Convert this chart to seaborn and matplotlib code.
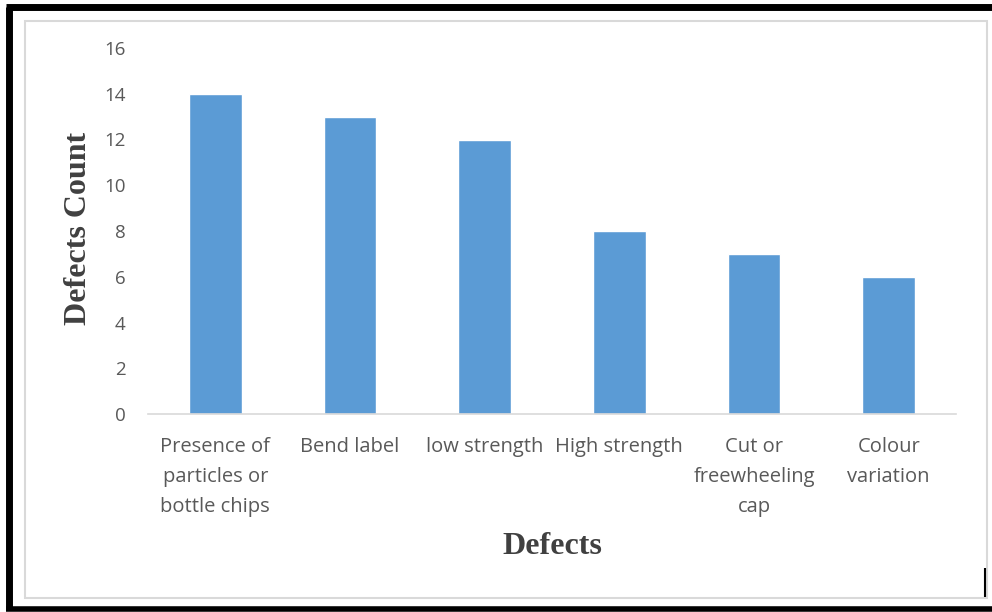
import matplotlib
matplotlib.use("Agg")
import matplotlib.pyplot as plt
import seaborn as sns
import pandas as pd
from matplotlib.patches import Rectangle
from matplotlib.lines import Line2D

categories = [
    "Presence of\nparticles or\nbottle chips",
    "Bend label",
    "low strength",
    "High strength",
    "Cut or\nfreewheeling\ncap",
    "Colour\nvariation",
]
counts = [14, 13, 12, 8, 7, 6]
y_ticks = [0, 2, 4, 6, 8, 10, 12, 14, 16]

df = pd.DataFrame({"Defect": categories, "Count": counts})

sns.set_theme(style="white")
plt.rcParams["font.family"] = ["Open Sans", "DejaVu Sans"]

W, H = 992, 612
fig = plt.figure(figsize=(W / 100, H / 100), dpi=100)
fig.patch.set_facecolor("white")

# axes box in pixel terms: x 148..956, y 48..414
ax = fig.add_axes([148 / W, 1 - 414 / H, (956 - 148) / W, (414 - 48) / H])

sns.barplot(data=df, x="Defect", y="Count", color="#5B9BD5", saturation=1,
            width=0.39, ax=ax)

ax.set_ylim(0, 16)
ax.set_xlim(-0.5, len(categories) - 0.5)
ax.set_yticks(y_ticks, labels=[str(v) for v in y_ticks])
ax.set_xticks(range(len(categories)), labels=categories)
for s in ["top", "right", "left"]:
    ax.spines[s].set_visible(False)
ax.spines["bottom"].set_color("#d9d9d9")
ax.spines["bottom"].set_linewidth(1.2)
ax.tick_params(axis="y", length=0, labelsize=13.5, labelcolor="#595959", pad=16)
ax.tick_params(axis="x", length=0, labelsize=14.5, labelcolor="#595959", pad=16.5)
fig.canvas.draw()
for lbl in ax.get_xticklabels():
    lbl.set_linespacing(1.68)
    lbl.set_verticalalignment("top")

ax.set_xlabel("Defects", family="Liberation Serif", fontweight="bold",
              fontsize=23, color="#404040")
ax.set_ylabel("Defects Count", family="Liberation Serif", fontweight="bold",
              fontsize=23, color="#404040")
ax.xaxis.set_label_coords(0.5, -(547 - 414) / 366, transform=ax.transAxes)
ax.xaxis.label.set_verticalalignment("center")
ax.yaxis.set_label_coords(-(148 - 78) / 808, (414 - 228) / 366, transform=ax.transAxes)
ax.yaxis.label.set_verticalalignment("center")

# inner light frame of the chart area
fig.patches.append(Rectangle((25 / W, 1 - 598 / H), (987 - 25) / W, (598 - 21) / H,
                             transform=fig.transFigure, fill=False,
                             edgecolor="#d9d9d9", linewidth=1.5))
# outer black frame: left, top, bottom plus a short right stub
black = "black"
fig.add_artist(Line2D([9 / W, 9 / W], [1 - 7 / H, 1 - 609 / H], color=black, lw=5,
                      transform=fig.transFigure, solid_capstyle="butt"))
fig.add_artist(Line2D([6 / W, 1.0], [1 - 7 / H, 1 - 7 / H], color=black, lw=5,
                      transform=fig.transFigure, solid_capstyle="butt"))
fig.add_artist(Line2D([6 / W, 1.0], [1 - 609 / H, 1 - 609 / H], color=black, lw=4,
                      transform=fig.transFigure, solid_capstyle="butt"))
fig.add_artist(Line2D([985 / W, 985 / W], [1 - 568 / H, 1 - 597 / H], color=black,
                      lw=1.5, transform=fig.transFigure, solid_capstyle="butt"))

fig.savefig("out.png", dpi=100)
